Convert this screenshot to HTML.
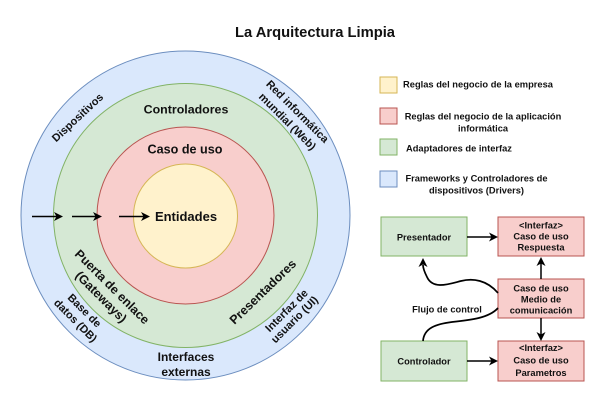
<!DOCTYPE html>
<html><head><meta charset="utf-8"><style>
html,body{margin:0;padding:0;background:#fff;}
svg{display:block;}
text{font-family:"Liberation Sans",Arial,sans-serif;font-weight:bold;fill:#111;}
</style></head><body>
<svg width="605" height="413" viewBox="0 0 605 413" xmlns="http://www.w3.org/2000/svg">
<rect width="605" height="413" fill="#fff"/>
<text x="315" y="37" font-size="14.7" text-anchor="middle" textLength="160" lengthAdjust="spacingAndGlyphs">La Arquitectura Limpia</text>

<!-- circles -->
<circle cx="185.5" cy="215.5" r="164.5" fill="#dae8fc" stroke="#6c8ebf" stroke-width="1"/>
<circle cx="185.5" cy="215.5" r="132" fill="#d5e8d4" stroke="#82b366" stroke-width="1"/>
<circle cx="185.5" cy="215.5" r="88.5" fill="#f8cecc" stroke="#b85450" stroke-width="1"/>
<circle cx="185.5" cy="216" r="52" fill="#fff2cc" stroke="#d6b656" stroke-width="1"/>

<text x="186" y="113.5" font-size="12.4" text-anchor="middle">Controladores</text>
<text x="185" y="153.5" font-size="12.6" text-anchor="middle">Caso de uso</text>
<text x="186" y="221" font-size="13" text-anchor="middle">Entidades</text>

<!-- arrows -->
<g stroke="#000" stroke-width="1.5" fill="none">
<line x1="32" y1="216.5" x2="57" y2="216.5"/>
<line x1="72" y1="216.5" x2="96" y2="216.5"/>
<line x1="119" y1="216.5" x2="144" y2="216.5"/>
</g>
<g fill="#000">
<polygon points="63,216.5 54,212 56.5,216.5 54,221"/>
<polygon points="102,216.5 93,212 95.5,216.5 93,221"/>
<polygon points="150,216.5 141,212 143.5,216.5 141,221"/>
</g>

<!-- ring labels -->
<text font-size="11" text-anchor="middle" dominant-baseline="central" transform="translate(78,118) rotate(-43)">Dispositivos</text>
<text font-size="11" text-anchor="middle" dominant-baseline="central" transform="translate(297,112) rotate(45)">Red informática</text>
<text font-size="11" text-anchor="middle" dominant-baseline="central" transform="translate(287,122) rotate(45)">mundial (Web)</text>

<text font-size="12.5" text-anchor="middle" dominant-baseline="central" transform="translate(112,287) rotate(45)">Puerta de enlace</text>
<text font-size="12.5" text-anchor="middle" dominant-baseline="central" transform="translate(101,297) rotate(45)">(Gateways)</text>

<text font-size="11" text-anchor="middle" dominant-baseline="central" transform="translate(84,311) rotate(45)">Base de</text>
<text font-size="11" text-anchor="middle" dominant-baseline="central" transform="translate(75,321) rotate(45)">datos (DB)</text>

<text font-size="12.5" text-anchor="middle" dominant-baseline="central" transform="translate(263,292) rotate(-44)">Presentadores</text>

<text font-size="11" text-anchor="middle" dominant-baseline="central" transform="translate(287,311) rotate(-45)">Interfaz de</text>
<text font-size="11" text-anchor="middle" dominant-baseline="central" transform="translate(295,320) rotate(-45)">usuario (UI)</text>

<text x="186" y="361" font-size="12" text-anchor="middle">Interfaces</text>
<text x="186" y="376" font-size="12" text-anchor="middle">externas</text>

<!-- legend -->
<rect x="380" y="77" width="17" height="16" fill="#fff2cc" stroke="#d6b656"/>
<rect x="380" y="108" width="17" height="16" fill="#f8cecc" stroke="#b85450"/>
<rect x="380" y="139" width="17" height="16" fill="#d5e8d4" stroke="#82b366"/>
<rect x="380" y="171" width="17" height="16" fill="#dae8fc" stroke="#6c8ebf"/>
<text x="403" y="87.5" font-size="9.3" textLength="150" lengthAdjust="spacingAndGlyphs">Reglas del negocio de la empresa</text>
<text x="483" y="119.5" font-size="9.3" text-anchor="middle">Reglas del negocio de la aplicación</text>
<text x="483" y="131.5" font-size="9.3" text-anchor="middle">informática</text>
<text x="406" y="151.5" font-size="9.3">Adaptadores de interfaz</text>
<text x="476.5" y="181.5" font-size="9.3" text-anchor="middle">Frameworks y Controladores de</text>
<text x="476.5" y="193.5" font-size="9.3" text-anchor="middle">dispositivos (Drivers)</text>

<!-- flow diagram boxes -->
<rect x="381" y="217" width="86" height="39" fill="#d5e8d4" stroke="#82b366"/>
<rect x="381" y="341" width="86" height="40" fill="#d5e8d4" stroke="#82b366"/>
<rect x="498" y="217" width="86" height="39" fill="#f8cecc" stroke="#b85450"/>
<rect x="498" y="279" width="86" height="39" fill="#f8cecc" stroke="#b85450"/>
<rect x="498" y="341" width="86" height="40" fill="#f8cecc" stroke="#b85450"/>

<text x="424" y="240.5" font-size="9.3" text-anchor="middle">Presentador</text>
<text x="424" y="364.5" font-size="9.3" text-anchor="middle">Controlador</text>

<text x="541" y="228.5" font-size="9.3" text-anchor="middle">&lt;Interfaz&gt;</text>
<text x="541" y="239.5" font-size="9.3" text-anchor="middle">Caso de uso</text>
<text x="541" y="250.5" font-size="9.3" text-anchor="middle">Respuesta</text>

<text x="541" y="291.5" font-size="9.3" text-anchor="middle">Caso de uso</text>
<text x="541" y="302.5" font-size="9.3" text-anchor="middle">Medio de</text>
<text x="541" y="313.5" font-size="9.3" text-anchor="middle">comunicación</text>

<text x="541" y="351" font-size="9.3" text-anchor="middle">&lt;Interfaz&gt;</text>
<text x="541" y="363.5" font-size="9.3" text-anchor="middle">Caso de uso</text>
<text x="541" y="376" font-size="9.3" text-anchor="middle">Parametros</text>

<text x="447" y="312.5" font-size="9.3" text-anchor="middle">Flujo de control</text>

<!-- flow arrows -->
<g stroke="#000" stroke-width="1.5" fill="none">
<line x1="467" y1="237" x2="492" y2="237"/>
<line x1="467" y1="361" x2="492" y2="361"/>
<line x1="541" y1="279" x2="541" y2="263"/>
<line x1="541" y1="318" x2="541" y2="335"/>
<path d="M498,293 C487,280 473,278 461,281 C449,284 433,290 427,277 C424,271 423,268 423,265" stroke-width="1.7"/>
<path d="M498,308 C489,318 471,320 452,322 C436,324 424,328 423,341" stroke-width="1.7"/>
</g>
<g fill="#000">
<polygon points="498,237 489,232.5 491.5,237 489,241.5"/>
<polygon points="498,361 489,356.5 491.5,361 489,365.5"/>
<polygon points="541,257 536.5,266 541,263.5 545.5,266"/>
<polygon points="541,341 536.5,332 541,334.5 545.5,332"/>
<polygon points="423,258 418.5,267 423,264.5 427.5,267"/>
</g>
</svg>
</body></html>
